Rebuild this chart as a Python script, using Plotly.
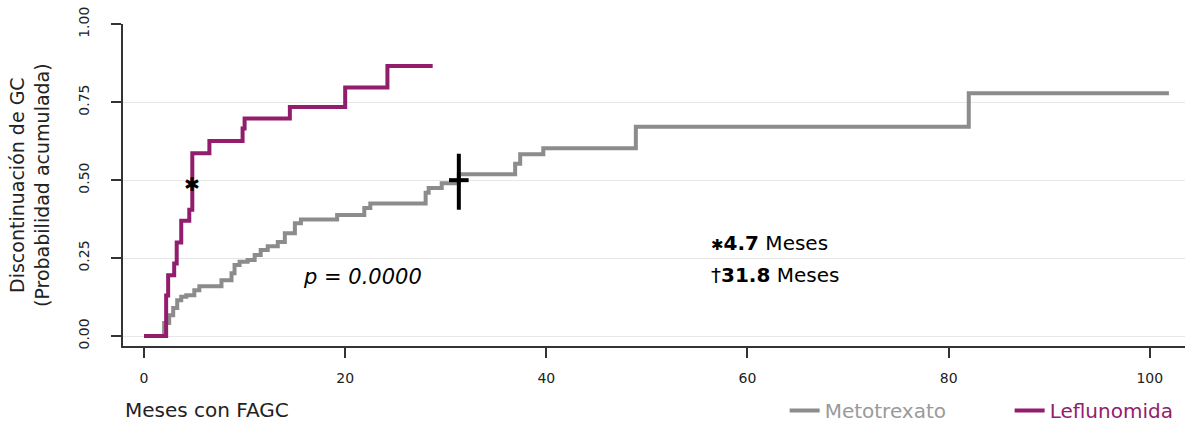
import plotly.graph_objects as go

# ---- data ----
leflunomida_t = [0, 2.2, 2.4, 3.0, 3.25, 3.7, 4.5, 4.8, 6.5, 9.8, 10.0, 14.5, 20.0, 24.2, 28.7]
leflunomida_p = [0, 0.13, 0.195, 0.233, 0.30, 0.37, 0.405, 0.586, 0.626, 0.666, 0.698, 0.735, 0.797, 0.866, 0.866]

metotrexato_t = [0, 2.0, 2.5, 2.9, 3.3, 3.7, 4.2, 5.0, 5.5, 7.7, 8.7, 9.0, 9.5, 10.3, 11.0, 11.6,
                 12.3, 13.3, 14.0, 15.0, 15.6, 19.2, 21.9, 22.5, 28.0, 28.3, 29.6, 31.3, 36.9, 37.4,
                 39.7, 48.9, 82.0, 101.9]
metotrexato_p = [0, 0.042, 0.067, 0.090, 0.115, 0.126, 0.131, 0.147, 0.160, 0.179, 0.201, 0.228,
                 0.238, 0.244, 0.260, 0.276, 0.288, 0.302, 0.330, 0.362, 0.374, 0.388, 0.411, 0.425,
                 0.46, 0.475, 0.49, 0.519, 0.553, 0.583, 0.602, 0.671, 0.779, 0.779]

series_names = ["Metotrexato", "Leflunomida"]
median_lef_x, median_lef_y = 4.8, 0.48
median_mtx_x, median_mtx_y = 31.3, 0.5
median_lef_label = "4.7"
median_mtx_label = "31.8"
p_value_label = "p = 0.0000"

x_ticks = [0, 20, 40, 60, 80, 100]
y_ticks = [0, 0.25, 0.5, 0.75, 1.0]
y_ticklabels = ["0.00", "0.25", "0.50", "0.75", "1.00"]

GRAY = "#8c8c8c"
PURPLE = "#921d6c"
FONT = "DejaVu Sans"

fig = go.Figure()
fig.add_trace(go.Scatter(
    x=metotrexato_t, y=metotrexato_p, mode="lines", line=dict(shape="hv", color=GRAY, width=4),
    name='<span style="color:#9a9a9a">' + series_names[0] + '</span>'))
fig.add_trace(go.Scatter(
    x=leflunomida_t, y=leflunomida_p, mode="lines", line=dict(shape="hv", color=PURPLE, width=4),
    name='<span style="color:' + PURPLE + '">' + series_names[1] + '</span>'))

# median markers
fig.add_trace(go.Scatter(
    x=[median_lef_x], y=[median_lef_y], mode="text", text=["✱"], textposition="middle center",
    showlegend=False, textfont=dict(family=FONT, size=19, color="black")))
fig.add_trace(go.Scatter(
    x=[median_mtx_x], y=[median_mtx_y - 0.005], mode="markers", showlegend=False,
    marker=dict(symbol="line-ns-open", size=40, color="black", line=dict(color="black", width=4))))
fig.add_trace(go.Scatter(
    x=[median_mtx_x], y=[median_mtx_y], mode="markers", showlegend=False,
    marker=dict(symbol="line-ew-open", size=14, color="black", line=dict(color="black", width=4))))

fig.add_annotation(x=21.7, y=0.189, xref="x", yref="y", text="<i>" + p_value_label + "</i>",
                   showarrow=False, font=dict(family=FONT, size=21, color="black"))
fig.add_annotation(x=56.2, y=0.298, xref="x", yref="y", xanchor="left",
                   text='<span style="font-size:15px">✱</span><b>' + median_lef_label + "</b> Meses",
                   showarrow=False, font=dict(family=FONT, size=20, color="black"))
fig.add_annotation(x=56.2, y=0.196, xref="x", yref="y", xanchor="left",
                   text="†<b>" + median_mtx_label + "</b> Meses",
                   showarrow=False, font=dict(family=FONT, size=20, color="black"))

# axis titles
fig.add_annotation(x=0, y=-0.20, xref="paper", yref="paper", xanchor="left", yanchor="middle",
                   text="Meses con FAGC", showarrow=False,
                   font=dict(family=FONT, size=20, color="#222"))
fig.add_annotation(x=0, y=0.5, xref="paper", yref="paper", xshift=-94,
                   xanchor="center", yanchor="middle",
                   text="Discontinuación de GC<br>(Probabilidad acumulada)", textangle=-90,
                   showarrow=False, font=dict(family=FONT, size=19, color="#222"))

fig.update_layout(
    width=1185, height=423,
    margin=dict(l=123, r=0, t=24, b=77, autoexpand=False),
    plot_bgcolor="white", paper_bgcolor="white",
    font=dict(family=FONT, size=14, color="#222"),
    legend=dict(orientation="h", x=0.623, y=-0.20, xanchor="left", yanchor="middle",
                font=dict(family=FONT, size=20), entrywidth=180, entrywidthmode="pixels",
                bgcolor="rgba(0,0,0,0)"),
    showlegend=True,
)
fig.update_xaxes(range=[-2.09, 103.5], tickvals=x_ticks, showgrid=False, zeroline=False,
                 showline=True, linecolor="#333", linewidth=2, ticks="outside", ticklen=10,
                 tickwidth=2, tickcolor="#333", tickfont=dict(size=14, color="#222"),
                 ticklabelstandoff=8)
fig.update_yaxes(range=[-0.032, 1.001], tickvals=y_ticks, ticktext=y_ticklabels, tickangle=-90,
                 showgrid=True, gridcolor="#e6e6e6", gridwidth=1, zeroline=False,
                 showline=True, linecolor="#333", linewidth=2, ticks="outside", ticklen=10,
                 tickwidth=2, tickcolor="#333", tickfont=dict(size=14, color="#222"),
                 ticklabelstandoff=16)

fig.write_html("out.html", config={"displayModeBar": False},
               post_script="document.body.style.margin='0';document.body.style.overflow='hidden';")
